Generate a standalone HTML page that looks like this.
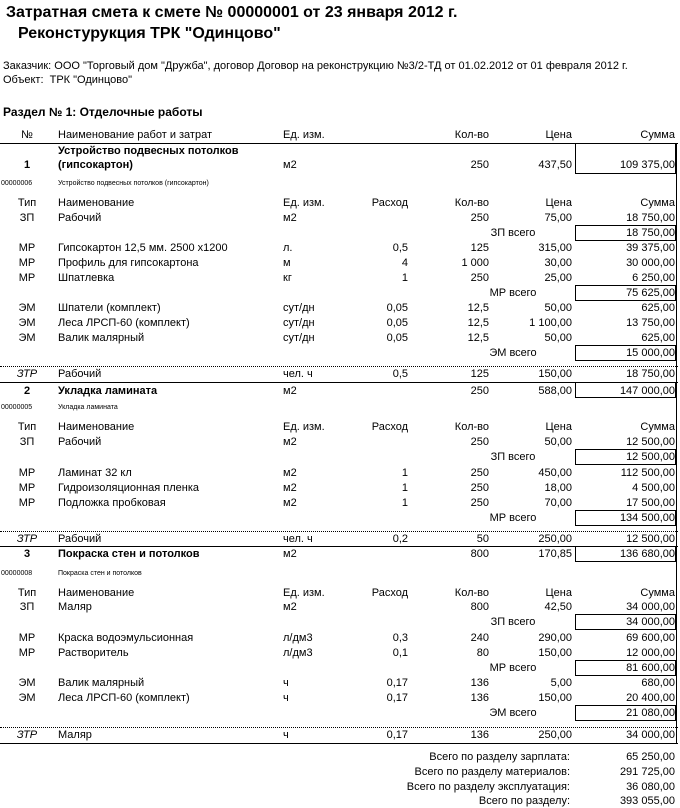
<!DOCTYPE html>
<html><head><meta charset="utf-8"><style>
body{margin:0;background:#fff;}
#p{position:relative;width:680px;height:808px;overflow:hidden;font-family:"Liberation Sans",Arial,sans-serif;font-size:11px;color:#000;}
.t{position:absolute;white-space:nowrap;line-height:14px;height:14px;}
.c{left:7px;width:40px;text-align:center;}
.n{left:58px}.u{left:283px}
.r{right:272px}.q{right:191px}.p{right:108px}.s{right:5px}
.tot{right:110px}
.b{font-weight:bold}
.i{font-style:italic}
.sm{font-size:7px;line-height:10px;height:10px}
.box{position:absolute;left:575px;width:101px;border:1px solid #000;box-sizing:border-box;}
.hl{position:absolute;left:0;width:678px;border-top:1px solid #000;height:0}
.dl{position:absolute;left:0;width:678px;border-top:1px dotted #000;height:0}
.lbl{position:absolute;width:120px;left:453px;text-align:center;line-height:14px;white-space:nowrap}
</style></head><body><div id="p">
<div class="t b" style="left:6px;top:3px;font-size:16px;line-height:20px;height:20px">Затратная смета к смете № 00000001 от 23 января 2012 г.</div>
<div class="t b" style="left:18px;top:24px;font-size:16px;line-height:20px;height:20px">Реконстурукция ТРК "Одинцово"</div>
<div class="t" style="left:3px;top:59px;font-size:11px">Заказчик: ООО "Торговый дом "Дружба", договор Договор на реконструкцию №3/2-ТД от 01.02.2012 от 01 февраля 2012 г.</div>
<div class="t" style="left:3px;top:73px;font-size:11px">Объект:&nbsp; ТРК "Одинцово"</div>
<div class="t b" style="left:3px;top:105px;font-size:12px">Раздел № 1: Отделочные работы</div>

<div class="t c" style="top:128px">№</div><div class="t n" style="top:128px">Наименование работ и затрат</div><div class="t u" style="top:128px">Ед. изм.</div><div class="t q" style="top:128px">Кол-во</div><div class="t p" style="top:128px">Цена</div><div class="t s" style="top:128px">Сумма</div>
<div class="hl" style="top:143px"></div>

<div class="t n b" style="top:144px">Устройство подвесных потолков</div>
<div class="t c b" style="top:158px">1</div><div class="t n b" style="top:158px">(гипсокартон)</div><div class="t u" style="top:158px">м2</div><div class="t q" style="top:158px">250</div><div class="t p" style="top:158px">437,50</div><div class="t s" style="top:158px">109 375,00</div>
<div class="box" style="top:143px;height:31px"></div>
<div class="t sm" style="left:1px;top:179px">00000006</div><div class="t sm" style="left:58px;top:179px">Устройство подвесных потолков (гипсокартон)</div>

<div class="t c" style="top:196px">Тип</div><div class="t n" style="top:196px">Наименование</div><div class="t u" style="top:196px">Ед. изм.</div><div class="t r" style="top:196px">Расход</div><div class="t q" style="top:196px">Кол-во</div><div class="t p" style="top:196px">Цена</div><div class="t s" style="top:196px">Сумма</div>
<div class="t c" style="top:211px">ЗП</div><div class="t n" style="top:211px">Рабочий</div><div class="t u" style="top:211px">м2</div><div class="t q" style="top:211px">250</div><div class="t p" style="top:211px">75,00</div><div class="t s" style="top:211px">18 750,00</div>
<div class="lbl" style="top:226px">ЗП всего</div><div class="box" style="top:225px;height:16px"></div><div class="t s" style="top:226px">18 750,00</div>

<div class="t c" style="top:241px">МР</div><div class="t n" style="top:241px">Гипсокартон 12,5 мм. 2500 х1200</div><div class="t u" style="top:241px">л.</div><div class="t r" style="top:241px">0,5</div><div class="t q" style="top:241px">125</div><div class="t p" style="top:241px">315,00</div><div class="t s" style="top:241px">39 375,00</div>
<div class="t c" style="top:256px">МР</div><div class="t n" style="top:256px">Профиль для гипсокартона</div><div class="t u" style="top:256px">м</div><div class="t r" style="top:256px">4</div><div class="t q" style="top:256px">1 000</div><div class="t p" style="top:256px">30,00</div><div class="t s" style="top:256px">30 000,00</div>
<div class="t c" style="top:271px">МР</div><div class="t n" style="top:271px">Шпатлевка</div><div class="t u" style="top:271px">кг</div><div class="t r" style="top:271px">1</div><div class="t q" style="top:271px">250</div><div class="t p" style="top:271px">25,00</div><div class="t s" style="top:271px">6 250,00</div>
<div class="lbl" style="top:286px">МР всего</div><div class="box" style="top:285px;height:16px"></div><div class="t s" style="top:286px">75 625,00</div>

<div class="t c" style="top:301px">ЭМ</div><div class="t n" style="top:301px">Шпатели (комплект)</div><div class="t u" style="top:301px">сут/дн</div><div class="t r" style="top:301px">0,05</div><div class="t q" style="top:301px">12,5</div><div class="t p" style="top:301px">50,00</div><div class="t s" style="top:301px">625,00</div>
<div class="t c" style="top:316px">ЭМ</div><div class="t n" style="top:316px">Леса ЛРСП-60 (комплект)</div><div class="t u" style="top:316px">сут/дн</div><div class="t r" style="top:316px">0,05</div><div class="t q" style="top:316px">12,5</div><div class="t p" style="top:316px">1 100,00</div><div class="t s" style="top:316px">13 750,00</div>
<div class="t c" style="top:331px">ЭМ</div><div class="t n" style="top:331px">Валик малярный</div><div class="t u" style="top:331px">сут/дн</div><div class="t r" style="top:331px">0,05</div><div class="t q" style="top:331px">12,5</div><div class="t p" style="top:331px">50,00</div><div class="t s" style="top:331px">625,00</div>
<div class="lbl" style="top:346px">ЭМ всего</div><div class="box" style="top:345px;height:16px"></div><div class="t s" style="top:346px">15 000,00</div>

<div class="dl" style="top:366px"></div>
<div class="t c i" style="top:367px">ЗТР</div><div class="t n" style="top:367px">Рабочий</div><div class="t u" style="top:367px">чел. ч</div><div class="t r" style="top:367px">0,5</div><div class="t q" style="top:367px">125</div><div class="t p" style="top:367px">150,00</div><div class="t s" style="top:367px">18 750,00</div>
<div class="hl" style="top:382px"></div>

<div class="t c b" style="top:384px">2</div><div class="t n b" style="top:384px">Укладка ламината</div><div class="t u" style="top:384px">м2</div><div class="t q" style="top:384px">250</div><div class="t p" style="top:384px">588,00</div><div class="t s" style="top:384px">147 000,00</div>
<div class="box" style="top:382px;height:16px"></div>
<div class="t sm" style="left:1px;top:403px">00000005</div><div class="t sm" style="left:58px;top:403px">Укладка ламината</div>
<div class="t c" style="top:420px">Тип</div><div class="t n" style="top:420px">Наименование</div><div class="t u" style="top:420px">Ед. изм.</div><div class="t r" style="top:420px">Расход</div><div class="t q" style="top:420px">Кол-во</div><div class="t p" style="top:420px">Цена</div><div class="t s" style="top:420px">Сумма</div>
<div class="t c" style="top:435px">ЗП</div><div class="t n" style="top:435px">Рабочий</div><div class="t u" style="top:435px">м2</div><div class="t q" style="top:435px">250</div><div class="t p" style="top:435px">50,00</div><div class="t s" style="top:435px">12 500,00</div>
<div class="lbl" style="top:450px">ЗП всего</div><div class="box" style="top:449px;height:16px"></div><div class="t s" style="top:450px">12 500,00</div>
<div class="t c" style="top:466px">МР</div><div class="t n" style="top:466px">Ламинат 32 кл</div><div class="t u" style="top:466px">м2</div><div class="t r" style="top:466px">1</div><div class="t q" style="top:466px">250</div><div class="t p" style="top:466px">450,00</div><div class="t s" style="top:466px">112 500,00</div>
<div class="t c" style="top:481px">МР</div><div class="t n" style="top:481px">Гидроизоляционная пленка</div><div class="t u" style="top:481px">м2</div><div class="t r" style="top:481px">1</div><div class="t q" style="top:481px">250</div><div class="t p" style="top:481px">18,00</div><div class="t s" style="top:481px">4 500,00</div>
<div class="t c" style="top:496px">МР</div><div class="t n" style="top:496px">Подложка пробковая</div><div class="t u" style="top:496px">м2</div><div class="t r" style="top:496px">1</div><div class="t q" style="top:496px">250</div><div class="t p" style="top:496px">70,00</div><div class="t s" style="top:496px">17 500,00</div>
<div class="lbl" style="top:511px">МР всего</div><div class="box" style="top:510px;height:16px"></div><div class="t s" style="top:511px">134 500,00</div>
<div class="dl" style="top:531px"></div>
<div class="t c i" style="top:532px">ЗТР</div><div class="t n" style="top:532px">Рабочий</div><div class="t u" style="top:532px">чел. ч</div><div class="t r" style="top:532px">0,2</div><div class="t q" style="top:532px">50</div><div class="t p" style="top:532px">250,00</div><div class="t s" style="top:532px">12 500,00</div>
<div class="hl" style="top:546px"></div>

<div class="t c b" style="top:547px">3</div><div class="t n b" style="top:547px">Покраска стен и потолков</div><div class="t u" style="top:547px">м2</div><div class="t q" style="top:547px">800</div><div class="t p" style="top:547px">170,85</div><div class="t s" style="top:547px">136 680,00</div>
<div class="box" style="top:546px;height:16px"></div>
<div class="t sm" style="left:1px;top:569px">00000008</div><div class="t sm" style="left:58px;top:569px">Покраска стен и потолков</div>
<div class="t c" style="top:586px">Тип</div><div class="t n" style="top:586px">Наименование</div><div class="t u" style="top:586px">Ед. изм.</div><div class="t r" style="top:586px">Расход</div><div class="t q" style="top:586px">Кол-во</div><div class="t p" style="top:586px">Цена</div><div class="t s" style="top:586px">Сумма</div>
<div class="t c" style="top:600px">ЗП</div><div class="t n" style="top:600px">Маляр</div><div class="t u" style="top:600px">м2</div><div class="t q" style="top:600px">800</div><div class="t p" style="top:600px">42,50</div><div class="t s" style="top:600px">34 000,00</div>
<div class="lbl" style="top:615px">ЗП всего</div><div class="box" style="top:614px;height:16px"></div><div class="t s" style="top:615px">34 000,00</div>
<div class="t c" style="top:631px">МР</div><div class="t n" style="top:631px">Краска водоэмульсионная</div><div class="t u" style="top:631px">л/дм3</div><div class="t r" style="top:631px">0,3</div><div class="t q" style="top:631px">240</div><div class="t p" style="top:631px">290,00</div><div class="t s" style="top:631px">69 600,00</div>
<div class="t c" style="top:646px">МР</div><div class="t n" style="top:646px">Растворитель</div><div class="t u" style="top:646px">л/дм3</div><div class="t r" style="top:646px">0,1</div><div class="t q" style="top:646px">80</div><div class="t p" style="top:646px">150,00</div><div class="t s" style="top:646px">12 000,00</div>
<div class="lbl" style="top:661px">МР всего</div><div class="box" style="top:660px;height:16px"></div><div class="t s" style="top:661px">81 600,00</div>
<div class="t c" style="top:676px">ЭМ</div><div class="t n" style="top:676px">Валик малярный</div><div class="t u" style="top:676px">ч</div><div class="t r" style="top:676px">0,17</div><div class="t q" style="top:676px">136</div><div class="t p" style="top:676px">5,00</div><div class="t s" style="top:676px">680,00</div>
<div class="t c" style="top:691px">ЭМ</div><div class="t n" style="top:691px">Леса ЛРСП-60 (комплект)</div><div class="t u" style="top:691px">ч</div><div class="t r" style="top:691px">0,17</div><div class="t q" style="top:691px">136</div><div class="t p" style="top:691px">150,00</div><div class="t s" style="top:691px">20 400,00</div>
<div class="lbl" style="top:706px">ЭМ всего</div><div class="box" style="top:705px;height:16px"></div><div class="t s" style="top:706px">21 080,00</div>
<div class="dl" style="top:727px"></div>
<div class="t c i" style="top:728px">ЗТР</div><div class="t n" style="top:728px">Маляр</div><div class="t u" style="top:728px">ч</div><div class="t r" style="top:728px">0,17</div><div class="t q" style="top:728px">136</div><div class="t p" style="top:728px">250,00</div><div class="t s" style="top:728px">34 000,00</div>
<div class="hl" style="top:743px"></div>

<div style="position:absolute;left:676px;top:143px;width:1px;height:600px;background:#000"></div>

<div class="t tot" style="top:750px">Всего по разделу зарплата:</div><div class="t s" style="top:750px">65 250,00</div>
<div class="t tot" style="top:765px">Всего по разделу материалов:</div><div class="t s" style="top:765px">291 725,00</div>
<div class="t tot" style="top:780px">Всего по разделу эксплуатация:</div><div class="t s" style="top:780px">36 080,00</div>
<div class="t tot" style="top:794px">Всего по разделу:</div><div class="t s" style="top:794px">393 055,00</div>
</div></body></html>
